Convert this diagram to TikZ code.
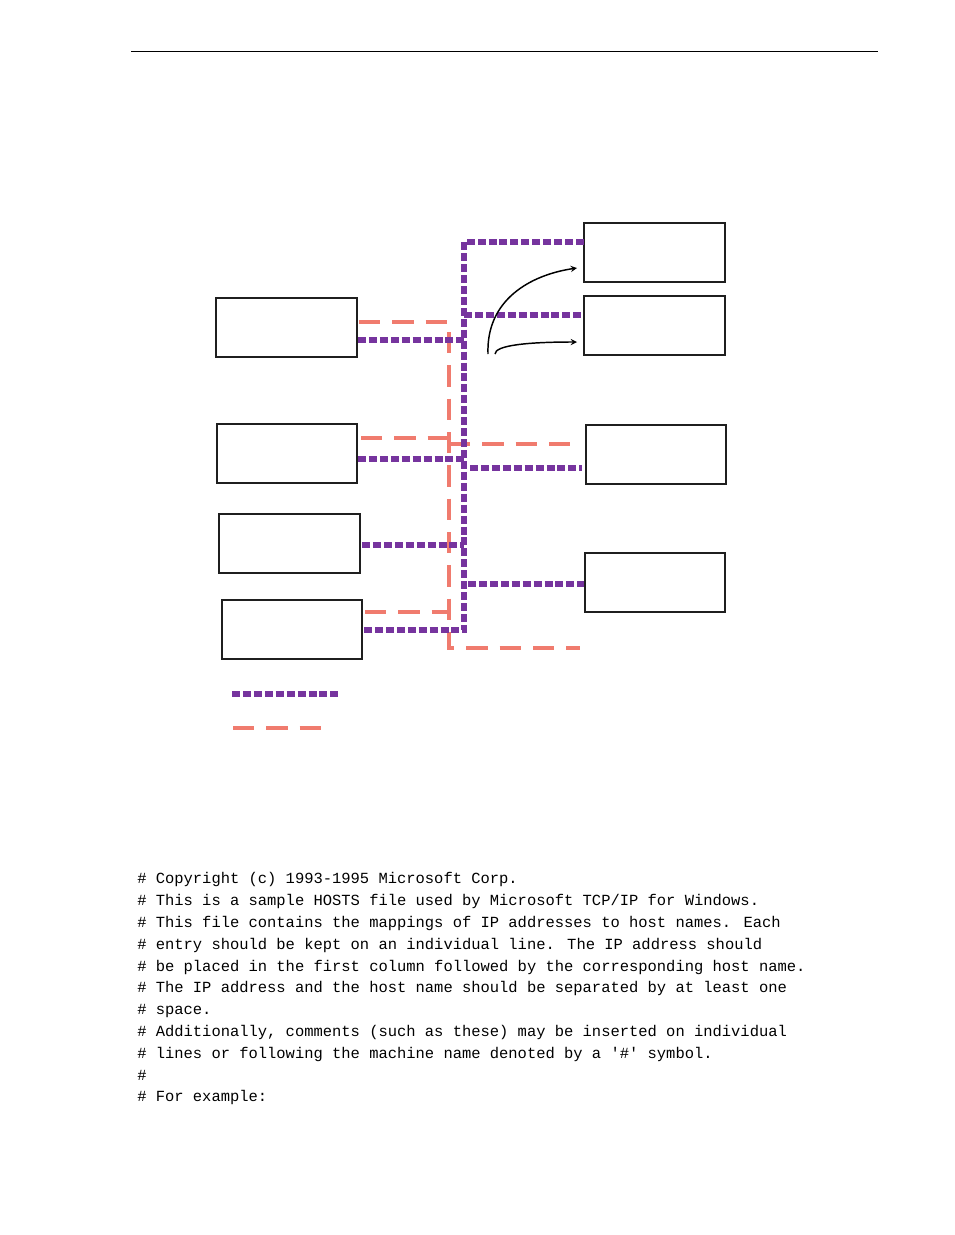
\documentclass[tikz,border=0pt]{standalone}
\usepackage{fontspec}
\newfontfamily\codefont{Liberation Mono}
\begin{document}
\begin{tikzpicture}[x=0.75pt,y=-0.75pt,
  box/.style={draw=black!88,line width=1.6pt},
  pur/.style={draw={rgb,255:red,118;green,52;blue,158},line width=4.5pt,dash pattern=on 6pt off 2.2pt},
  sal/.style={draw={rgb,255:red,240;green,123;blue,110},line width=3pt,dash pattern=on 16pt off 9pt},
  code/.style={anchor=base west,inner sep=0pt,font=\codefont\fontsize{11.6pt}{14pt}\selectfont}]
\useasboundingbox (0,0) rectangle (954,1235);
\draw[line width=0.6pt] (131,51) -- (878,51);
\coordinate (L1) at (216,298); \draw[box] (L1) rectangle (357,357);
\coordinate (L2) at (217,424); \draw[box] (L2) rectangle (357,483);
\coordinate (L3) at (219,514); \draw[box] (L3) rectangle (360,573);
\coordinate (L4) at (222,600); \draw[box] (L4) rectangle (362,659);
\coordinate (R1) at (584,223); \draw[box] (R1) rectangle (725,282);
\coordinate (R2) at (584,296); \draw[box] (R2) rectangle (725,355);
\coordinate (R3) at (586,425); \draw[box] (R3) rectangle (726,484);
\coordinate (R4) at (585,553); \draw[box] (R4) rectangle (725,612);
% salmon
\draw[sal] (359,322) -- (449,322) -- (449,648) -- (580,648);
\draw[sal] (361,438) -- (449,438);
\draw[sal] (449,444) -- (580,444);
\draw[sal] (365,612) -- (449,612);
% purple
\draw[pur] (584,242) -- (464,242) -- (464,630);
\draw[pur] (464,315) -- (584,315);
\draw[pur] (358,340) -- (464,340);
\draw[pur] (358,459) -- (464,459);
\draw[pur] (470,468) -- (582,468);
\draw[pur] (362,545) -- (464,545);
\draw[pur] (468,584) -- (584,584);
\draw[pur] (364,630) -- (467,630);
% arrows
\draw[-stealth,line width=1.1pt] (488,354) .. controls (486,300) and (530,275) .. (577,268);
\draw[-stealth,line width=1.1pt] (495,354) .. controls (495,345) and (530,342) .. (577,342);
% legend
\draw[pur] (232,694) -- (340,694);
\draw[sal] (233,728) -- (328,728);
% text
\node[code] at (137,883) {\# Copyright (c) 1993-1995 Microsoft Corp.};
\node[code] at (137,905) {\# This is a sample HOSTS file used by Microsoft TCP/IP for Windows.};
\node[code] at (137,927) {\# This file contains the mappings of IP addresses to host names. Each};
\node[code] at (137,949) {\# entry should be kept on an individual line. The IP address should};
\node[code] at (137,971) {\# be placed in the first column followed by the corresponding host name.};
\node[code] at (137,992) {\# The IP address and the host name should be separated by at least one};
\node[code] at (137,1014) {\# space.};
\node[code] at (137,1036) {\# Additionally, comments (such as these) may be inserted on individual};
\node[code] at (137,1058) {\# lines or following the machine name denoted by a '\#' symbol.};
\node[code] at (137,1080) {\#};
\node[code] at (137,1101) {\# For example:};
\end{tikzpicture}
\end{document}
